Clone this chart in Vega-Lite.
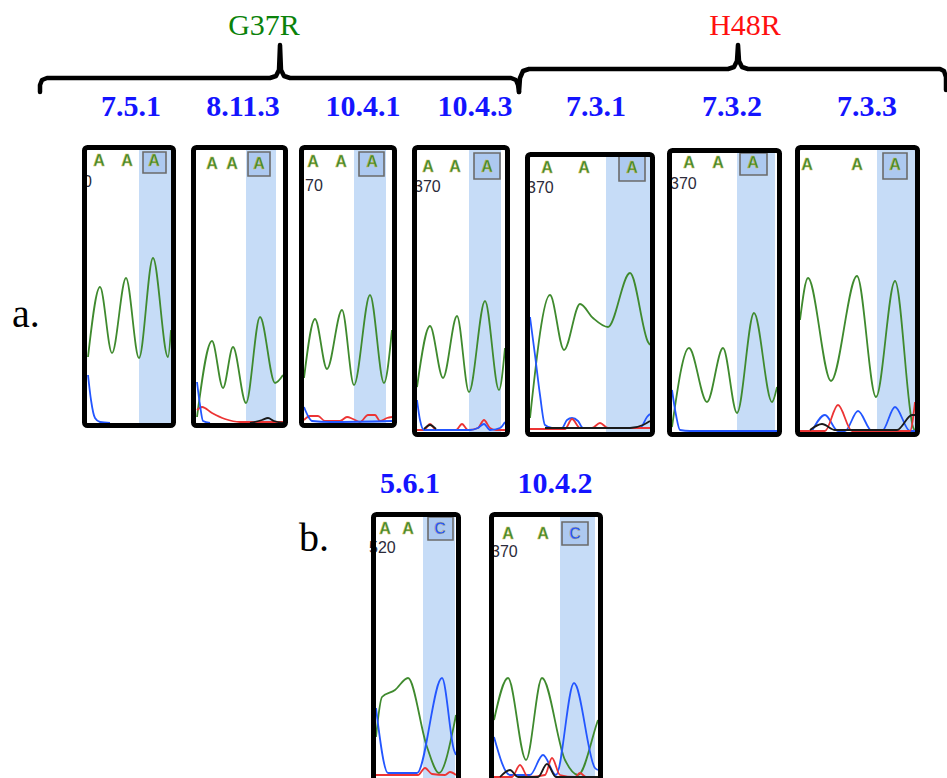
{
 "$schema": "https://vega.github.io/schema/vega-lite/v6.json",
 "width": 947, "height": 778, "autosize": "none", "padding": 0,
 "background": "white",
 "config": {"view": {"stroke": null}},
 "datasets": {
  "hl": [
   {"x":139,"x2":171,"y":150,"y2":423},
   {"x":246,"x2":276,"y":150,"y2":423},
   {"x":354,"x2":386,"y":150,"y2":423},
   {"x":469,"x2":501,"y":150,"y2":432},
   {"x":606,"x2":650,"y":157,"y2":432},
   {"x":737,"x2":775,"y":153,"y2":432},
   {"x":877,"x2":915,"y":150,"y2":432},
   {"x":423,"x2":455,"y":517,"y2":778},
   {"x":560,"x2":595,"y":517,"y2":778}
  ],
  "boxes": [
   {"x":143,"x2":166,"y":152,"y2":173},
   {"x":248,"x2":270,"y":152,"y2":176},
   {"x":359,"x2":384,"y":152,"y2":176},
   {"x":474,"x2":500,"y":153,"y2":179},
   {"x":619,"x2":645,"y":156,"y2":181},
   {"x":740,"x2":767,"y":153,"y2":175},
   {"x":883,"x2":907,"y":153,"y2":179},
   {"x":428,"x2":453,"y":517,"y2":540},
   {"x":562,"x2":588,"y":522,"y2":545}
  ],
  "frames": [
   {"x":84.5,"x2":173.5,"y":147.5,"y2":425.5},
   {"x":193.5,"x2":285.5,"y":147.5,"y2":425.5},
   {"x":301.5,"x2":394.5,"y":147.5,"y2":425.5},
   {"x":414.5,"x2":507.5,"y":147.5,"y2":434.5},
   {"x":527.5,"x2":652.5,"y":154.5,"y2":434.5},
   {"x":669.5,"x2":779.5,"y":150.5,"y2":434.5},
   {"x":797.5,"x2":917.5,"y":147.5,"y2":434.5},
   {"x":373.5,"x2":458.5,"y":514.5,"y2":800},
   {"x":491.5,"x2":600.5,"y":514.5,"y2":800}
  ],
  "traces": [
   {"p":1,"d":"A","x":88,"y":357},{"p":1,"d":"A","x":100,"y":287},{"p":1,"d":"A","x":112,"y":353},{"p":1,"d":"A","x":126,"y":278},{"p":1,"d":"A","x":139,"y":358},{"p":1,"d":"A","x":153,"y":258},{"p":1,"d":"A","x":168,"y":357},{"p":1,"d":"A","x":171,"y":330},
   {"p":1,"d":"C","x":88,"y":375},{"p":1,"d":"C","x":91,"y":400},{"p":1,"d":"C","x":95,"y":418},{"p":1,"d":"C","x":100,"y":422},{"p":1,"d":"C","x":110,"y":423},
   {"p":2,"d":"A","x":197,"y":417},{"p":2,"d":"A","x":212,"y":341},{"p":2,"d":"A","x":223,"y":388},{"p":2,"d":"A","x":233,"y":347},{"p":2,"d":"A","x":246,"y":403},{"p":2,"d":"A","x":260,"y":317},{"p":2,"d":"A","x":275,"y":383},{"p":2,"d":"A","x":283,"y":375},
   {"p":2,"d":"T","x":197,"y":410},{"p":2,"d":"T","x":202,"y":407},{"p":2,"d":"T","x":212,"y":413},{"p":2,"d":"T","x":225,"y":419},{"p":2,"d":"T","x":240,"y":422},{"p":2,"d":"T","x":283,"y":422},
   {"p":2,"d":"C","x":197,"y":382},{"p":2,"d":"C","x":200,"y":405},{"p":2,"d":"C","x":203,"y":421},{"p":2,"d":"C","x":210,"y":423},
   {"p":2,"d":"G","x":250,"y":423},{"p":2,"d":"G","x":262,"y":420},{"p":2,"d":"G","x":268,"y":418},{"p":2,"d":"G","x":274,"y":421},{"p":2,"d":"G","x":283,"y":423},
   {"p":3,"d":"A","x":304,"y":378},{"p":3,"d":"A","x":315,"y":319},{"p":3,"d":"A","x":327,"y":369},{"p":3,"d":"A","x":342,"y":310},{"p":3,"d":"A","x":354,"y":385},{"p":3,"d":"A","x":370,"y":295},{"p":3,"d":"A","x":384,"y":383},{"p":3,"d":"A","x":392,"y":330},
   {"p":3,"d":"T","x":304,"y":420},{"p":3,"d":"T","x":310,"y":416},{"p":3,"d":"T","x":318,"y":416},{"p":3,"d":"T","x":325,"y":421},{"p":3,"d":"T","x":340,"y":421},{"p":3,"d":"T","x":347,"y":417},{"p":3,"d":"T","x":353,"y":419},{"p":3,"d":"T","x":360,"y":422},{"p":3,"d":"T","x":368,"y":415},{"p":3,"d":"T","x":375,"y":415},{"p":3,"d":"T","x":380,"y":421},{"p":3,"d":"T","x":387,"y":418},{"p":3,"d":"T","x":392,"y":417},
   {"p":3,"d":"C","x":304,"y":407},{"p":3,"d":"C","x":308,"y":416},{"p":3,"d":"C","x":312,"y":421},{"p":3,"d":"C","x":330,"y":422},{"p":3,"d":"C","x":392,"y":421},
   {"p":4,"d":"A","x":417,"y":387},{"p":4,"d":"A","x":430,"y":326},{"p":4,"d":"A","x":443,"y":378},{"p":4,"d":"A","x":457,"y":316},{"p":4,"d":"A","x":469,"y":392},{"p":4,"d":"A","x":485,"y":301},{"p":4,"d":"A","x":499,"y":390},{"p":4,"d":"A","x":505,"y":348},
   {"p":4,"d":"T","x":417,"y":430},{"p":4,"d":"T","x":424,"y":430},{"p":4,"d":"T","x":430,"y":424},{"p":4,"d":"T","x":436,"y":430},{"p":4,"d":"T","x":456,"y":430},{"p":4,"d":"T","x":462,"y":424},{"p":4,"d":"T","x":468,"y":430},{"p":4,"d":"T","x":478,"y":428},{"p":4,"d":"T","x":484,"y":420},{"p":4,"d":"T","x":490,"y":428},{"p":4,"d":"T","x":496,"y":430},{"p":4,"d":"T","x":505,"y":430},
   {"p":4,"d":"C","x":417,"y":400},{"p":4,"d":"C","x":420,"y":420},{"p":4,"d":"C","x":424,"y":430},{"p":4,"d":"C","x":440,"y":430},{"p":4,"d":"C","x":470,"y":430},{"p":4,"d":"C","x":478,"y":428},{"p":4,"d":"C","x":484,"y":424},{"p":4,"d":"C","x":490,"y":430},{"p":4,"d":"C","x":500,"y":428},{"p":4,"d":"C","x":505,"y":422},
   {"p":4,"d":"G","x":424,"y":429},{"p":4,"d":"G","x":430,"y":425},{"p":4,"d":"G","x":436,"y":429},
   {"p":5,"d":"A","x":530,"y":418},{"p":5,"d":"A","x":550,"y":295},{"p":5,"d":"A","x":564,"y":350},{"p":5,"d":"A","x":580,"y":304},{"p":5,"d":"A","x":593,"y":318},{"p":5,"d":"A","x":608,"y":327},{"p":5,"d":"A","x":630,"y":273},{"p":5,"d":"A","x":648,"y":342},{"p":5,"d":"A","x":650,"y":345},
   {"p":5,"d":"C","x":530,"y":317},{"p":5,"d":"C","x":535,"y":355},{"p":5,"d":"C","x":540,"y":395},{"p":5,"d":"C","x":545,"y":425},{"p":5,"d":"C","x":552,"y":428},{"p":5,"d":"C","x":562,"y":428},{"p":5,"d":"C","x":567,"y":420},{"p":5,"d":"C","x":572,"y":418},{"p":5,"d":"C","x":578,"y":421},{"p":5,"d":"C","x":583,"y":428},{"p":5,"d":"C","x":640,"y":428},{"p":5,"d":"C","x":647,"y":417},{"p":5,"d":"C","x":650,"y":414},
   {"p":5,"d":"T","x":530,"y":429},{"p":5,"d":"T","x":565,"y":429},{"p":5,"d":"T","x":572,"y":419},{"p":5,"d":"T","x":580,"y":428},{"p":5,"d":"T","x":592,"y":428},{"p":5,"d":"T","x":600,"y":423},{"p":5,"d":"T","x":608,"y":428},{"p":5,"d":"T","x":650,"y":428},
   {"p":5,"d":"G","x":545,"y":428},{"p":5,"d":"G","x":630,"y":428},{"p":5,"d":"G","x":643,"y":425},{"p":5,"d":"G","x":650,"y":421},
   {"p":6,"d":"A","x":672,"y":427},{"p":6,"d":"A","x":689,"y":348},{"p":6,"d":"A","x":707,"y":402},{"p":6,"d":"A","x":723,"y":348},{"p":6,"d":"A","x":737,"y":413},{"p":6,"d":"A","x":754,"y":313},{"p":6,"d":"A","x":772,"y":402},{"p":6,"d":"A","x":777,"y":387},
   {"p":6,"d":"C","x":672,"y":390},{"p":6,"d":"C","x":676,"y":415},{"p":6,"d":"C","x":680,"y":430},{"p":6,"d":"C","x":690,"y":431},{"p":6,"d":"C","x":777,"y":431},
   {"p":7,"d":"A","x":800,"y":320},{"p":7,"d":"A","x":808,"y":278},{"p":7,"d":"A","x":831,"y":381},{"p":7,"d":"A","x":857,"y":276},{"p":7,"d":"A","x":876,"y":397},{"p":7,"d":"A","x":895,"y":281},{"p":7,"d":"A","x":913,"y":427},{"p":7,"d":"A","x":915,"y":431},
   {"p":7,"d":"C","x":812,"y":431},{"p":7,"d":"C","x":825,"y":415},{"p":7,"d":"C","x":838,"y":431},{"p":7,"d":"C","x":845,"y":431},{"p":7,"d":"C","x":858,"y":411},{"p":7,"d":"C","x":872,"y":431},{"p":7,"d":"C","x":882,"y":431},{"p":7,"d":"C","x":895,"y":407},{"p":7,"d":"C","x":910,"y":431},{"p":7,"d":"C","x":915,"y":431},
   {"p":7,"d":"T","x":800,"y":431},{"p":7,"d":"T","x":825,"y":431},{"p":7,"d":"T","x":838,"y":405},{"p":7,"d":"T","x":852,"y":431},{"p":7,"d":"T","x":910,"y":431},{"p":7,"d":"T","x":915,"y":402},
   {"p":7,"d":"G","x":810,"y":430},{"p":7,"d":"G","x":822,"y":424},{"p":7,"d":"G","x":835,"y":430},{"p":7,"d":"G","x":897,"y":430},{"p":7,"d":"G","x":912,"y":415},{"p":7,"d":"G","x":915,"y":415},
   {"p":8,"d":"A","x":376,"y":737},{"p":8,"d":"A","x":382,"y":697},{"p":8,"d":"A","x":395,"y":690},{"p":8,"d":"A","x":408,"y":678},{"p":8,"d":"A","x":427,"y":747},{"p":8,"d":"A","x":439,"y":773},{"p":8,"d":"A","x":454,"y":725},{"p":8,"d":"A","x":456,"y":715},
   {"p":8,"d":"C","x":376,"y":708},{"p":8,"d":"C","x":388,"y":773},{"p":8,"d":"C","x":417,"y":773},{"p":8,"d":"C","x":442,"y":678},{"p":8,"d":"C","x":454,"y":750},{"p":8,"d":"C","x":456,"y":755},
   {"p":8,"d":"T","x":376,"y":775},{"p":8,"d":"T","x":418,"y":775},{"p":8,"d":"T","x":425,"y":768},{"p":8,"d":"T","x":432,"y":774},{"p":8,"d":"T","x":445,"y":775},{"p":8,"d":"T","x":450,"y":772},{"p":8,"d":"T","x":456,"y":775},
   {"p":9,"d":"A","x":494,"y":720},{"p":9,"d":"A","x":508,"y":678},{"p":9,"d":"A","x":526,"y":760},{"p":9,"d":"A","x":542,"y":678},{"p":9,"d":"A","x":565,"y":760},{"p":9,"d":"A","x":578,"y":775},{"p":9,"d":"A","x":597,"y":723},{"p":9,"d":"A","x":598,"y":720},
   {"p":9,"d":"C","x":494,"y":737},{"p":9,"d":"C","x":510,"y":775},{"p":9,"d":"C","x":530,"y":775},{"p":9,"d":"C","x":543,"y":755},{"p":9,"d":"C","x":556,"y":775},{"p":9,"d":"C","x":574,"y":683},{"p":9,"d":"C","x":595,"y":768},{"p":9,"d":"C","x":598,"y":770},
   {"p":9,"d":"T","x":494,"y":777},{"p":9,"d":"T","x":512,"y":777},{"p":9,"d":"T","x":520,"y":765},{"p":9,"d":"T","x":528,"y":777},{"p":9,"d":"T","x":545,"y":775},{"p":9,"d":"T","x":552,"y":758},{"p":9,"d":"T","x":560,"y":775},{"p":9,"d":"T","x":575,"y":777},{"p":9,"d":"T","x":580,"y":773},{"p":9,"d":"T","x":586,"y":777},{"p":9,"d":"T","x":598,"y":777},
   {"p":9,"d":"G","x":500,"y":777},{"p":9,"d":"G","x":510,"y":770},{"p":9,"d":"G","x":518,"y":777},{"p":9,"d":"G","x":538,"y":777},{"p":9,"d":"G","x":547,"y":764},{"p":9,"d":"G","x":556,"y":777},{"p":9,"d":"G","x":598,"y":777}
  ],
  "bases": [
   {"t":"A","x":99,"y":161},{"t":"A","x":127,"y":161},{"t":"A","x":154,"y":161},
   {"t":"A","x":212,"y":164},{"t":"A","x":232,"y":164},{"t":"A","x":259,"y":164},
   {"t":"A","x":313,"y":162},{"t":"A","x":341,"y":162},{"t":"A","x":372,"y":162},
   {"t":"A","x":428,"y":167},{"t":"A","x":455,"y":167},{"t":"A","x":487,"y":167},
   {"t":"A","x":547,"y":168},{"t":"A","x":584,"y":168},{"t":"A","x":632,"y":168},
   {"t":"A","x":689,"y":163},{"t":"A","x":718,"y":163},{"t":"A","x":753,"y":163},
   {"t":"A","x":807,"y":165},{"t":"A","x":857,"y":165},{"t":"A","x":895,"y":165},
   {"t":"A","x":385,"y":529},{"t":"A","x":408,"y":529},{"t":"C","x":440,"y":529},
   {"t":"A","x":508,"y":534},{"t":"A","x":543,"y":534},{"t":"C","x":575,"y":534}
  ],
  "nums": [
   {"t":"0","x":83,"y":182},{"t":"70","x":305,"y":186},{"t":"370","x":414,"y":187},
   {"t":"370","x":527,"y":188},{"t":"370","x":670,"y":184},{"t":"520","x":369,"y":548},{"t":"370","x":491,"y":552}
  ],
  "labels": [
   {"t":"7.5.1","x":131,"y":116},{"t":"8.11.3","x":243,"y":116},{"t":"10.4.1","x":363,"y":116},{"t":"10.4.3","x":475,"y":116},
   {"t":"7.3.1","x":596,"y":116},{"t":"7.3.2","x":732,"y":116},{"t":"7.3.3","x":867,"y":116},
   {"t":"5.6.1","x":410,"y":493},{"t":"10.4.2","x":555,"y":493}
  ],
  "muts": [
   {"t":"G37R","x":264,"y":35},{"t":"H48R","x":745,"y":35}
  ],
  "parts": [
   {"t":"a.","x":12,"y":327},{"t":"b.","x":299,"y":551}
  ],
  "braces": [
   {"b":1,"i":0,"x":40,"y":92},{"b":1,"i":1,"x":40,"y":85},{"b":1,"i":2,"x":42,"y":80},{"b":1,"i":3,"x":47,"y":78},{"b":1,"i":4,"x":270,"y":78},{"b":1,"i":5,"x":276,"y":76},{"b":1,"i":6,"x":279,"y":70},{"b":1,"i":7,"x":280,"y":45},{"b":1,"i":8,"x":281,"y":70},{"b":1,"i":9,"x":284,"y":76},{"b":1,"i":10,"x":290,"y":78},{"b":1,"i":11,"x":511,"y":78},{"b":1,"i":12,"x":516,"y":80},{"b":1,"i":13,"x":518,"y":85},{"b":1,"i":14,"x":519,"y":92},
   {"b":2,"i":0,"x":519,"y":92},{"b":2,"i":1,"x":520,"y":78},{"b":2,"i":2,"x":523,"y":71},{"b":2,"i":3,"x":529,"y":69},{"b":2,"i":4,"x":728,"y":69},{"b":2,"i":5,"x":734,"y":67},{"b":2,"i":6,"x":737,"y":61},{"b":2,"i":7,"x":738,"y":45},{"b":2,"i":8,"x":739,"y":61},{"b":2,"i":9,"x":742,"y":67},{"b":2,"i":10,"x":748,"y":69},{"b":2,"i":11,"x":940,"y":69},{"b":2,"i":12,"x":944,"y":71},{"b":2,"i":13,"x":946,"y":77},{"b":2,"i":14,"x":946,"y":90}
  ]
 },
 "layer": [
  {"data":{"name":"hl"},"mark":{"type":"rect","fill":"#c6dcf7"},
   "encoding":{"x":{"field":"x","type":"quantitative","scale":{"domain":[0,947],"nice":false,"zero":false},"axis":null},"x2":{"field":"x2"},
    "y":{"field":"y","type":"quantitative","scale":{"domain":[0,778],"reverse":true,"nice":false,"zero":false},"axis":null},"y2":{"field":"y2"}}},
  {"data":{"name":"boxes"},"mark":{"type":"rect","fill":"#adc9f0","stroke":"#6b6b6b","strokeWidth":1.6},
   "encoding":{"x":{"field":"x","type":"quantitative"},"x2":{"field":"x2"},"y":{"field":"y","type":"quantitative"},"y2":{"field":"y2"}}},
  {"data":{"name":"traces"},"mark":{"type":"line","interpolate":"monotone","strokeWidth":1.8},
   "encoding":{"x":{"field":"x","type":"quantitative"},"y":{"field":"y","type":"quantitative"},
    "detail":{"field":"p","type":"nominal"},
    "color":{"field":"d","type":"nominal","scale":{"domain":["A","C","G","T"],"range":["#3f8a2e","#2356ff","#1a1a1a","#ec3434"]},"legend":null}}},
  {"data":{"name":"bases"},"mark":{"type":"text","font":"Liberation Sans","fontWeight":"bold","fontSize":16,"align":"center","baseline":"middle","stroke":"#d8c060","strokeWidth":0.4},
   "encoding":{"x":{"field":"x","type":"quantitative"},"y":{"field":"y","type":"quantitative"},"text":{"field":"t"},
    "color":{"field":"t","type":"nominal","legend":null}}},
  {"data":{"name":"nums"},"mark":{"type":"text","font":"Liberation Sans","fontSize":16,"align":"left","baseline":"middle","fill":"#2b2b3a"},
   "encoding":{"x":{"field":"x","type":"quantitative"},"y":{"field":"y","type":"quantitative"},"text":{"field":"t"}}},
  {"data":{"name":"frames"},"mark":{"type":"rect","fill":null,"fillOpacity":0,"stroke":"#000000","strokeWidth":5,"cornerRadius":3},
   "encoding":{"x":{"field":"x","type":"quantitative"},"x2":{"field":"x2"},"y":{"field":"y","type":"quantitative"},"y2":{"field":"y2"}}},
  {"data":{"name":"labels"},"mark":{"type":"text","font":"Liberation Serif","fontWeight":"bold","fontSize":30,"align":"center","baseline":"alphabetic","fill":"#1414ff"},
   "encoding":{"x":{"field":"x","type":"quantitative"},"y":{"field":"y","type":"quantitative"},"text":{"field":"t"}}},
  {"data":{"name":"muts"},"transform":[{"filter":"datum.t == 'G37R'"}],"mark":{"type":"text","font":"Liberation Serif","fontSize":30,"align":"center","baseline":"alphabetic","fill":"#0a820a"},
   "encoding":{"x":{"field":"x","type":"quantitative"},"y":{"field":"y","type":"quantitative"},"text":{"field":"t"}}},
  {"data":{"name":"muts"},"transform":[{"filter":"datum.t == 'H48R'"}],"mark":{"type":"text","font":"Liberation Serif","fontSize":30,"align":"center","baseline":"alphabetic","fill":"#ff1010"},
   "encoding":{"x":{"field":"x","type":"quantitative"},"y":{"field":"y","type":"quantitative"},"text":{"field":"t"}}},
  {"data":{"name":"parts"},"mark":{"type":"text","font":"Liberation Serif","fontSize":40,"align":"left","baseline":"alphabetic","fill":"#000000"},
   "encoding":{"x":{"field":"x","type":"quantitative"},"y":{"field":"y","type":"quantitative"},"text":{"field":"t"}}},
  {"data":{"name":"braces"},"mark":{"type":"line","stroke":"#000000","strokeWidth":4.5,"strokeJoin":"round","strokeCap":"round"},
   "encoding":{"x":{"field":"x","type":"quantitative"},"y":{"field":"y","type":"quantitative"},"detail":{"field":"b","type":"nominal"},"order":{"field":"i","type":"quantitative"}}}
 ]
}
